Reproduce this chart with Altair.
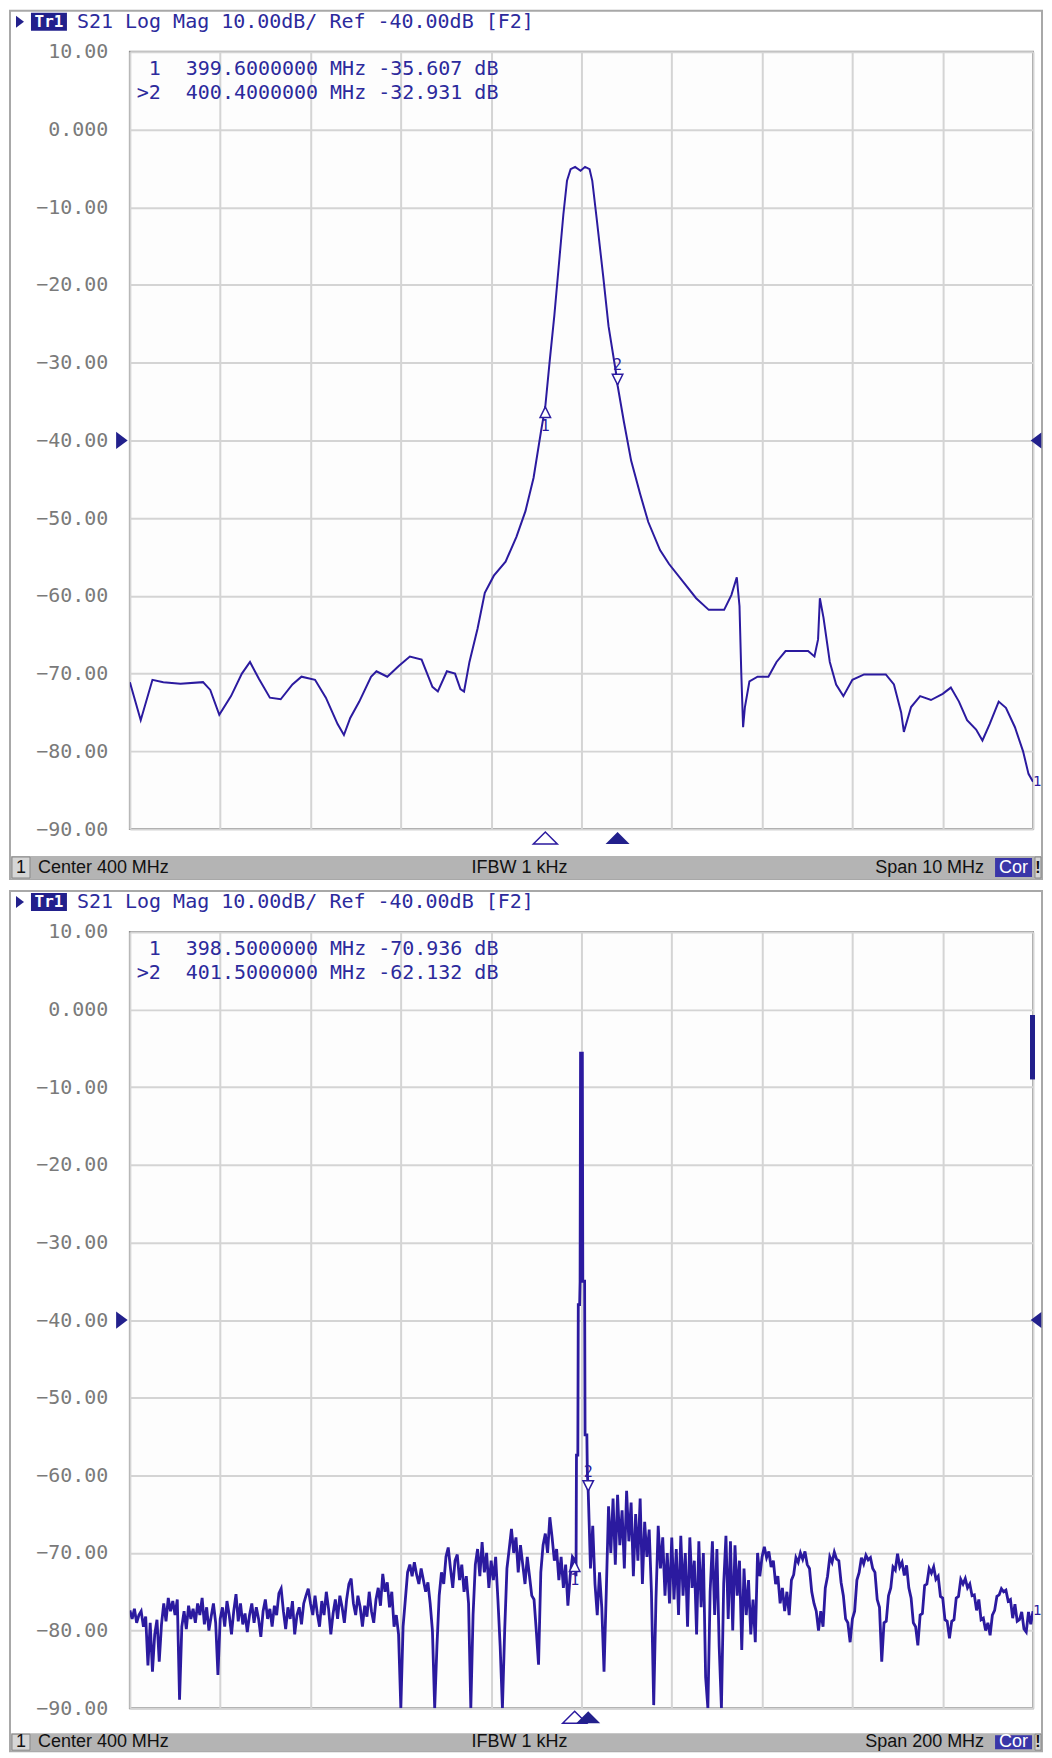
import altair as alt
import pandas as pd

# ---------------- data ----------------
Y_TICKS = [10, 0, -10, -20, -30, -40, -50, -60, -70, -80, -90]

# top trace: span 10 MHz around 400 MHz
TOP_F = [395.00, 395.12, 395.25, 395.37, 395.56, 395.81, 395.89, 395.99, 396.12, 396.24,
         396.33, 396.43, 396.55, 396.67, 396.80, 396.90, 397.05, 397.17, 397.30, 397.37,
         397.44, 397.54, 397.67, 397.73, 397.85, 397.98, 398.10, 398.23, 398.35, 398.41,
         398.51, 398.60, 398.66, 398.70, 398.76, 398.85, 398.93, 399.03, 399.16, 399.28,
         399.38, 399.47, 399.55, 399.60, 399.65, 399.70, 399.75, 399.80, 399.84, 399.88,
         399.93, 399.99, 400.04, 400.09, 400.12, 400.17, 400.24, 400.30, 400.38, 400.40,
         400.47, 400.55, 400.65, 400.74, 400.87, 400.97, 401.14, 401.27, 401.41, 401.58,
         401.66, 401.72, 401.75, 401.77, 401.79, 401.81, 401.86, 401.95, 402.07, 402.16,
         402.26, 402.51, 402.58, 402.62, 402.64, 402.68, 402.75, 402.82, 402.90, 403.00,
         403.13, 403.37, 403.46, 403.54, 403.57, 403.65, 403.75, 403.87, 404.00, 404.09,
         404.18, 404.27, 404.37, 404.44, 404.52, 404.62, 404.70, 404.80, 404.89, 404.95, 405.00]
TOP_DB = [-71.1, -76.0, -70.8, -71.1, -71.3, -71.1, -72.1, -75.3, -72.9, -70.0,
          -68.5, -70.7, -73.1, -73.3, -71.4, -70.4, -70.8, -73.1, -76.5, -77.9,
          -75.7, -73.6, -70.4, -69.7, -70.4, -69.0, -67.8, -68.2, -71.7, -72.3,
          -69.7, -70.0, -72.0, -72.3, -68.5, -64.2, -59.6, -57.4, -55.6, -52.4,
          -49.1, -44.8, -39.0, -35.6, -29.6, -23.9, -17.4, -10.9, -6.6, -5.1,
          -4.8, -5.3, -4.8, -5.1, -6.6, -11.6, -18.8, -25.3, -31.1, -32.9,
          -37.6, -42.6, -46.9, -50.5, -54.1, -55.9, -58.4, -60.3, -61.8, -61.8,
          -59.9, -57.6, -61.3, -70.0, -76.9, -74.3, -71.0, -70.4, -70.4, -68.5,
          -67.1, -67.1, -67.8, -65.6, -60.3, -62.8, -68.5, -71.4, -72.9, -70.8,
          -70.1, -70.1, -71.4, -75.0, -77.5, -74.3, -72.9, -73.4, -72.6, -71.8,
          -73.6, -76.0, -77.2, -78.6, -76.5, -73.6, -74.4, -76.9, -80.0, -82.9, -83.9]

# bottom trace: span 200 MHz, sweep points every 0.5 MHz
BOT_LEFT_START = 300.0   # 300.0 .. 398.0 MHz
BOT_LEFT_DB = [
    -77.4, -78.5, -77.2, -79.0, -78.0, -77.5, -79.5, -78.2, -84.5, -79.0,
    -85.3, -80.5, -78.6, -84.0, -79.2, -76.5, -78.8, -75.8, -77.5, -76.2,
    -78.0, -76.0, -88.9, -79.5, -77.5, -79.8, -76.8, -78.5, -77.2, -79.0,
    -76.5, -78.0, -75.8, -79.2, -77.0, -80.0, -78.2, -76.5, -79.0, -85.7,
    -78.5, -77.0, -79.5, -76.2, -78.0, -80.5, -77.5, -75.3, -78.8, -76.5,
    -79.2, -77.8, -80.2, -78.0, -76.5, -79.0, -77.0, -78.5, -80.8, -77.5,
    -76.0, -78.5, -77.2, -79.5, -76.8, -78.0, -75.2, -74.6, -77.5, -79.8,
    -77.0, -78.5, -76.2, -80.5, -78.0, -77.0, -79.2, -76.5, -75.5, -74.6,
    -76.5, -78.0, -75.5, -77.8, -79.5, -76.2, -78.0, -75.0, -77.2, -80.5,
    -77.8, -76.0, -78.5, -75.5, -77.0, -79.0, -76.0, -74.0, -73.3, -76.5,
    -78.0, -75.5, -77.0, -79.5, -76.8, -78.2, -75.0, -77.5, -79.0, -76.0,
    -74.5, -76.8, -72.7, -75.0, -73.8, -77.0, -75.0, -79.5, -78.0, -80.5,
    -90.0, -79.5, -76.0, -72.5, -71.5, -73.0, -71.2, -72.8, -74.0, -72.0,
    -73.5, -75.0, -73.8, -76.5, -80.0, -90.0, -82.0, -75.5, -72.5, -74.0,
    -70.5, -69.3, -72.0, -74.5, -71.0, -70.2, -73.5, -71.5, -75.0, -73.0,
    -76.5, -90.0, -78.0, -71.5, -69.5, -73.0, -68.6, -72.5, -70.0, -74.5,
    -71.0, -73.5, -70.5, -76.0, -82.0, -90.0, -80.0, -72.0, -69.5, -66.9,
    -70.0, -68.0, -72.5, -69.0, -71.5, -74.0, -70.5, -73.0, -75.5, -76.0,
    -80.0, -84.4, -72.5, -69.0, -67.5, -70.0, -65.4, -68.0, -71.0, -69.5,
    -73.5, -70.5, -74.5, -71.5, -76.8, -73.0, -70.5]
BOT_CENTER_F = [398.5, 398.8, 398.9, 399.2, 399.3, 399.6, 399.7, 399.8,
                400.2, 400.3, 400.7, 400.8, 401.2, 401.3, 401.5, 401.7]
BOT_CENTER_DB = [-70.9, -73.0, -57.4, -57.4, -38.0, -38.0, -35.0, -5.6,
                 -5.6, -35.0, -35.0, -54.8, -54.8, -59.5, -62.1, -66.0]
BOT_RIGHT_START = 402.0  # 402.0 .. 500.0 MHz
BOT_RIGHT_DB = [
    -72.0, -66.5, -74.0, -78.0, -72.5, -77.0, -85.3, -75.0, -64.0, -70.0, -63.0, -71.5, -62.5, -69.0, -64.5, -72.0,
    -62.0, -68.5, -63.5, -73.0, -65.0, -71.0, -63.0, -74.0, -66.0, -70.5,
    -67.0, -75.0, -89.6, -76.0, -66.5, -72.0, -68.0, -75.5, -70.0, -76.5,
    -68.0, -76.0, -69.5, -78.0, -67.8, -75.5, -70.0, -79.5, -68.0, -74.5,
    -71.0, -80.5, -68.5, -77.0, -70.0, -86.0, -90.0, -75.0, -68.5, -78.0,
    -69.5, -82.0, -90.0, -74.0, -67.8, -78.5, -68.5, -80.0, -69.0, -75.5,
    -71.0, -82.5, -72.0, -78.0, -73.5, -80.5, -76.0, -81.5, -70.0, -73.0,
    -70.5, -69.2, -70.6, -69.8, -71.8, -71.0, -74.0, -73.0, -76.5, -74.5,
    -77.5, -75.0, -78.0, -73.5, -72.8, -70.6, -71.2, -70.0, -70.8, -69.8,
    -71.5, -72.0, -75.0, -76.5, -77.5, -80.0, -77.5, -79.5, -74.5, -73.0,
    -70.5, -71.2, -69.9, -70.8, -71.0, -73.8, -75.5, -78.5, -79.0, -81.5,
    -78.5, -77.5, -73.5, -72.5, -70.6, -71.4, -70.3, -70.9, -70.6, -72.0,
    -72.5, -76.0, -77.0, -84.0, -79.0, -78.8, -75.5, -74.5, -71.8, -72.2,
    -70.1, -71.8, -71.2, -72.9, -71.6, -74.5, -75.8, -79.0, -79.5, -81.9,
    -78.0, -77.8, -74.2, -74.0, -72.0, -72.6, -71.8, -73.4, -73.0, -75.6,
    -75.8, -78.6, -78.8, -81.0, -78.8, -78.6, -75.8, -75.6, -73.4, -74.0,
    -73.3, -74.5, -74.0, -75.5, -75.4, -77.4, -76.0, -78.6, -78.4, -80.0,
    -79.0, -80.6, -78.0, -77.4, -75.6, -75.4, -74.6, -75.0, -74.8, -76.2,
    -76.0, -78.4, -76.6, -78.8, -78.6, -77.6, -79.8, -80.2, -77.6, -79.2, -77.5]

# markers
TOP_M_F = [399.6, 400.4]
TOP_M_DB = [-35.607, -32.931]
BOT_M_F = [398.5, 401.5]
BOT_M_DB = [-70.936, -62.132]
TOP_READOUT = ["399.6000000 MHz -35.607 dB", "400.4000000 MHz -32.931 dB"]
BOT_READOUT = ["398.5000000 MHz -70.936 dB", "401.5000000 MHz -62.132 dB"]
READOUT_IDS = ["1", ">2"]
HEADER = "S21 Log Mag 10.00dB/ Ref -40.00dB [F2]"
STATUS_LEFT = "Center 400 MHz"
STATUS_MID = "IFBW 1 kHz"
TOP_SPAN = "Span 10 MHz"
BOT_SPAN = "Span 200 MHz"
REF_LEVEL = -40
BOT_BAR = [-0.7, -9.0]

# ---------------- styling ----------------
BLUE = "#2b1a9f"
TXT_BLUE = "#2c2a9c"
NAVY = "#22208c"
GRID = "#d4d4d4"
FRAME = "#a8a8a8"
BARGRAY = "#b4b4b4"
MONO = "DejaVu Sans Mono"
SANS = "Liberation Sans, Arial, sans-serif"
W = 904
RIGHT = W + 9   # right edge of the panel frame (keeps the page within 1036 px)

TRI_R = "M-0.667,-1L0.667,0L-0.667,1Z"
TRI_L = "M0.667,-1L-0.667,0L0.667,1Z"
TRI_UP_FLAT = "M-1,0.5L1,0.5L0,-0.5Z"
TRI_UP = "M-1,1L1,1L0,-1Z"
TRI_DN = "M-1,-1L1,-1L0,1Z"


def one():
    return pd.DataFrame({"k": [0]})


def panel(freqs, dbs, fmin, fmax, mf, mdb, readout, span_text, H, sb_top, sb_bot,
          bar=None, lw=2.0):
    step = (fmax - fmin) / 10.0
    xticks = [fmin + step * i for i in range(11)]
    X = alt.X("f:Q", scale=alt.Scale(domain=[fmin, fmax], nice=False, zero=False),
              axis=alt.Axis(values=xticks, grid=True, labels=False, ticks=False,
                            domain=False, title=None, gridColor=GRID, gridWidth=2))
    Y = alt.Y("db:Q", scale=alt.Scale(domain=[-90, 10], nice=False, zero=False),
              axis=alt.Axis(values=Y_TICKS, grid=True, ticks=False, domain=False, title=None,
                            labelExpr="datum.value == 0 ? '0.000' : format(datum.value, '.2f')",
                            labelFont=MONO, labelFontSize=20, labelColor="#7a7a7a",
                            labelPadding=22, gridColor=GRID, gridWidth=2))
    trace = pd.DataFrame({"f": freqs, "db": dbs})
    mk = pd.DataFrame({"f": mf, "db": mdb, "id": ["1", "2"]})
    ref = pd.DataFrame({"db": [REF_LEVEL]})
    end = pd.DataFrame({"f": [freqs[-1]], "db": [dbs[-1]]})
    sy0, sy1 = H + sb_top, H + sb_bot
    sc = (sy0 + sy1) / 2.0

    layers = []
    # outer frame
    layers.append(alt.Chart(one()).mark_rect(fill="transparent", fillOpacity=0, stroke=FRAME,
                                            strokeWidth=2).encode(
        x=alt.value(-120), x2=alt.value(RIGHT), y=alt.value(-41), y2=alt.value(sy1)))
    # status bar
    layers.append(alt.Chart(one()).mark_rect(fill=BARGRAY).encode(
        x=alt.value(-119), x2=alt.value(RIGHT - 1), y=alt.value(sy0), y2=alt.value(sy1)))
    layers.append(alt.Chart(one()).mark_rect(fill="#d6d6d6", stroke="#8a8a8a", strokeWidth=1).encode(
        x=alt.value(-118), x2=alt.value(-100), y=alt.value(sy0 + 1), y2=alt.value(sy1 - 1)))
    layers.append(alt.Chart(one()).mark_text(text="1", font=SANS, fontSize=18, color="#111",
                                            align="center", baseline="middle").encode(
        x=alt.value(-109), y=alt.value(sc)))
    layers.append(alt.Chart(one()).mark_text(text=STATUS_LEFT, font=SANS, fontSize=18, color="#111",
                                            align="left", baseline="middle").encode(
        x=alt.value(-92), y=alt.value(sc)))
    layers.append(alt.Chart(one()).mark_text(text=STATUS_MID, font=SANS, fontSize=18, color="#111",
                                            align="center", baseline="middle").encode(
        x=alt.value(390), y=alt.value(sc)))
    layers.append(alt.Chart(one()).mark_text(text=span_text, font=SANS, fontSize=18, color="#111",
                                            align="right", baseline="middle").encode(
        x=alt.value(W - 49), y=alt.value(sc)))
    layers.append(alt.Chart(one()).mark_rect(fill="#3a36a8").encode(
        x=alt.value(W - 38), x2=alt.value(W - 1), y=alt.value(sy0 + 2), y2=alt.value(sy1 - 2)))
    layers.append(alt.Chart(one()).mark_text(text="Cor", font=SANS, fontSize=18, color="white",
                                            align="center", baseline="middle").encode(
        x=alt.value(W - 19.5), y=alt.value(sc)))
    layers.append(alt.Chart(one()).mark_rect(fill="#d6d6d6", stroke="#8a8a8a", strokeWidth=1).encode(
        x=alt.value(W + 2), x2=alt.value(RIGHT - 1), y=alt.value(sy0 + 1), y2=alt.value(sy1 - 1)))
    layers.append(alt.Chart(one()).mark_text(text="!", font=SANS, fontSize=16, color="#111",
                                            align="center", baseline="middle", fontWeight="bold").encode(
        x=alt.value((W + 1 + RIGHT) / 2.0), y=alt.value(sc)))
    # header
    layers.append(alt.Chart(one()).mark_point(shape=TRI_R, size=144, filled=True, color=NAVY, opacity=1).encode(
        x=alt.value(-110), y=alt.value(-30)))
    layers.append(alt.Chart(one()).mark_rect(fill=NAVY).encode(
        x=alt.value(-99), x2=alt.value(-63), y=alt.value(-39), y2=alt.value(-21)))
    layers.append(alt.Chart(one()).mark_text(text="Tr1", font=MONO, fontSize=16, fontWeight="bold",
                                            color="white", align="center", baseline="middle").encode(
        x=alt.value(-81), y=alt.value(-30)))
    layers.append(alt.Chart(one()).mark_text(text=HEADER, font=MONO, fontSize=20, color=TXT_BLUE,
                                            align="left", baseline="middle").encode(
        x=alt.value(-53), y=alt.value(-30)))
    # trace
    layers.append(alt.Chart(trace).mark_line(color=BLUE, strokeWidth=lw, clip=True,
                                             strokeJoin="miter").encode(x=X, y=Y))
    # marker readout lines
    for i, yy in enumerate([17.0, 41.0]):
        layers.append(alt.Chart(one()).mark_text(text=READOUT_IDS[i], font=MONO, fontSize=20,
                                                color=TXT_BLUE, align="right", baseline="middle").encode(
            x=alt.value(31), y=alt.value(yy)))
        layers.append(alt.Chart(one()).mark_text(text=readout[i], font=MONO, fontSize=20,
                                                color=TXT_BLUE, align="left", baseline="middle").encode(
            x=alt.value(56), y=alt.value(yy)))
    # reference level triangles
    layers.append(alt.Chart(ref).mark_point(shape=TRI_R, size=300, filled=True, color=NAVY, opacity=1).encode(
        x=alt.value(-8), y=Y))
    layers.append(alt.Chart(ref).mark_point(shape=TRI_L, size=256, filled=True, color=NAVY, opacity=1).encode(
        x=alt.value(RIGHT - 6), y=Y))
    # marker symbols on trace
    m1 = mk[mk["id"] == "1"]
    m2 = mk[mk["id"] == "2"]
    layers.append(alt.Chart(m1).mark_point(shape=TRI_UP, size=110, fill="white", stroke=BLUE,
                                           strokeWidth=1.5, opacity=1, yOffset=6).encode(x=X, y=Y))
    layers.append(alt.Chart(m1).mark_text(font=MONO, fontSize=15, color=BLUE, yOffset=20,
                                          baseline="middle").encode(x=X, y=Y, text="id:N"))
    layers.append(alt.Chart(m2).mark_point(shape=TRI_DN, size=110, fill="white", stroke=BLUE,
                                           strokeWidth=1.5, opacity=1, yOffset=-6).encode(x=X, y=Y))
    layers.append(alt.Chart(m2).mark_text(font=MONO, fontSize=15, color=BLUE, yOffset=-20,
                                          baseline="middle").encode(x=X, y=Y, text="id:N"))
    # marker triangles below plot
    layers.append(alt.Chart(m1).mark_point(shape=TRI_UP_FLAT, size=576, fill="white", stroke=BLUE,
                                           strokeWidth=1.5, opacity=1).encode(x=X, y=alt.value(H + 9)))
    layers.append(alt.Chart(m2).mark_point(shape=TRI_UP_FLAT, size=576, filled=True, color=NAVY,
                                           opacity=1).encode(x=X, y=alt.value(H + 9)))
    # trace end label (inside the frame)
    layers.append(alt.Chart(end).mark_text(text="1", font=MONO, fontSize=14, color=BLUE, align="left",
                                           dx=0, baseline="middle").encode(x=X, y=Y))
    if bar is not None:
        bdf = pd.DataFrame({"db": [bar[0]], "db2": [bar[1]]})
        layers.append(alt.Chart(bdf).mark_rect(color=NAVY).encode(
            x=alt.value(W - 3), x2=alt.value(W + 2), y=Y, y2="db2:Q"))
    return alt.layer(*layers).properties(width=W, height=H)


top = panel(TOP_F, TOP_DB, 395.0, 405.0, TOP_M_F, TOP_M_DB, TOP_READOUT, TOP_SPAN,
            H=778, sb_top=27, sb_bot=50)

bot_f = ([BOT_LEFT_START + 0.5 * i for i in range(len(BOT_LEFT_DB))] + BOT_CENTER_F +
         [BOT_RIGHT_START + 0.5 * i for i in range(len(BOT_RIGHT_DB))])
bot_db = BOT_LEFT_DB + BOT_CENTER_DB + BOT_RIGHT_DB
bottom = panel(bot_f, bot_db, 300.0, 500.0, BOT_M_F, BOT_M_DB, BOT_READOUT, BOT_SPAN,
               H=777, sb_top=25, sb_bot=43, bar=BOT_BAR, lw=2.8)

chart = alt.vconcat(top, bottom, spacing=8).properties(
    padding=0, background="white"
).configure_view(stroke="#8e8e8e", strokeWidth=2, fill="#fdfdfd")

chart.save("out.html", embed_options={"renderer": "svg", "actions": False})
